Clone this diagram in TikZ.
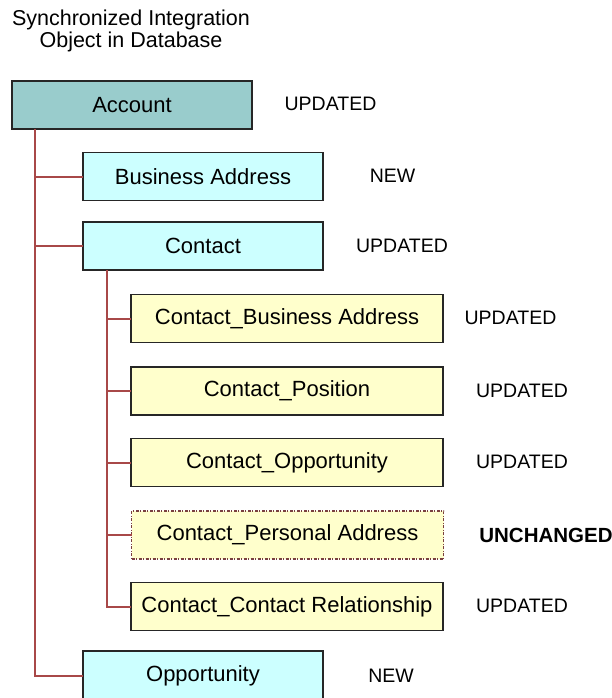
\documentclass[tikz,border=0pt]{standalone}
\usepackage{fontspec}
\setmainfont{Liberation Sans}
\begin{document}
\begin{tikzpicture}[x=1pt,y=-1pt,
  every node/.style={inner sep=0pt, outer sep=0pt},
  box/.style={draw=black!85, line width=1.5pt, minimum height=48pt, font=\fontsize{22}{24}\selectfont},
  topbox/.style={box, fill=acct, minimum width=240pt},
  lvlone/.style={box, fill=cyanl, minimum width=240pt},
  lvltwo/.style={box, fill=yell, minimum width=312pt},
  ghost/.style={lvltwo, draw=ghostc, dash pattern=on 3pt off 1.5pt on 1pt off 1.5pt, line width=1.2pt},
  tag/.style={font=\fontsize{19.5}{21}\selectfont},
  tree/.style={draw=treec, line width=2pt}]
\definecolor{acct}{HTML}{99CCCC}
\definecolor{cyanl}{HTML}{CCFFFF}
\definecolor{yell}{HTML}{FFFFCC}
\definecolor{treec}{HTML}{A84848}
\definecolor{ghostc}{HTML}{7A4040}
\useasboundingbox (0,0) rectangle (612,698);
\node[align=center, font=\fontsize{21.5}{22}\selectfont] (title) at (131,31) {Synchronized Integration\\Object in Database};
\node[topbox] (acc) at (132,105) {Account};
\node[lvlone] (ba) at (203,176.5) {Business Address};
\node[lvlone] (con) at (203,246) {Contact};
\node[lvltwo] (cba) at (287,318.5) {Contact\_Business Address};
\node[lvltwo] (cpos) at (287,391) {Contact\_Position};
\node[lvltwo] (copp) at (287,462.5) {Contact\_Opportunity};
\node[ghost] (cpa) at (287.5,535) {Contact\_Personal Address};
\node[lvltwo] (ccr) at (287,606.5) {Contact\_Contact Relationship};
\node[lvlone, minimum height=50pt] (opp) at (203,676) {Opportunity};
% tags
\node[tag] (t1) at (330.5,104) {UPDATED};
\node[tag] (t2) at (392.5,176) {NEW};
\node[tag] (t3) at (402,246) {UPDATED};
\node[tag] (t4) at (510.5,318) {UPDATED};
\node[tag] (t5) at (522,391) {UPDATED};
\node[tag] (t6) at (522,462) {UPDATED};
\node[tag, font=\fontsize{20.5}{22}\selectfont\bfseries] (t7) at (546,535) {UNCHANGED};
\node[tag] (t8) at (522,606) {UPDATED};
\node[tag] (t9) at (391,676) {NEW};
% tree
\coordinate (r0) at ([xshift=23pt]acc.south west);
\draw[tree] (r0) |- (opp.west);
\draw[tree] (r0 |- ba.west) -- (ba.west);
\draw[tree] (r0 |- con.west) -- (con.west);
\coordinate (r1) at ([xshift=24pt]con.south west);
\draw[tree] (r1) |- (ccr.west);
\draw[tree] (r1 |- cba.west) -- (cba.west);
\draw[tree] (r1 |- cpos.west) -- (cpos.west);
\draw[tree] (r1 |- copp.west) -- (copp.west);
\draw[tree] (r1 |- cpa.west) -- (cpa.west);
\end{tikzpicture}
\end{document}
